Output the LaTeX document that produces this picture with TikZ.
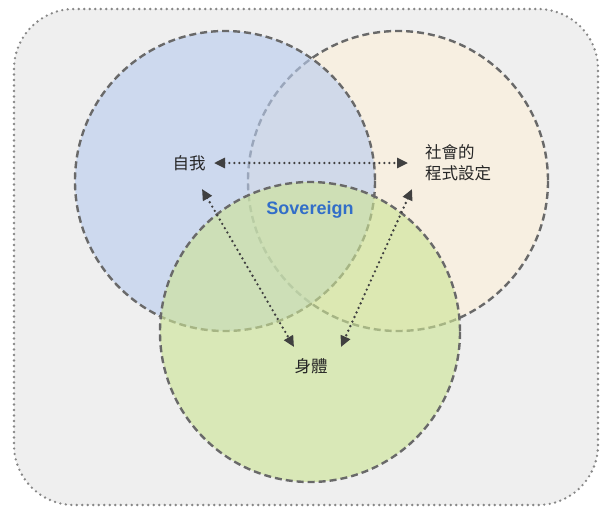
\documentclass[tikz,border=0pt]{standalone}
\usepackage{fontspec}
\setmainfont{Liberation Sans}
\newfontfamily\cjk{Noto Sans CJK TC}
\usetikzlibrary{arrows.meta}
\definecolor{bgc}{RGB}{239,239,239}
\definecolor{framec}{RGB}{135,135,135}
\definecolor{circc}{RGB}{105,105,105}
\definecolor{bluef}{RGB}{185,205,238}
\definecolor{beigef}{RGB}{252,240,218}
\definecolor{greenf}{RGB}{205,228,150}
\definecolor{sovc}{RGB}{50,110,200}
\tikzset{
  frame/.style={draw=framec, line width=2.6pt, dash pattern=on 0pt off 5.5pt, line cap=round, fill=bgc, rounded corners=60pt},
  circ/.style={draw=circc, line width=2.4pt, dash pattern=on 7pt off 4pt, fill opacity=0.62},
  lbl/.style={font=\cjk\fontsize{16.5}{21}\selectfont, text=black!85},
  link/.style={draw=black!75, line width=2.6pt, dash pattern=on 0pt off 5pt, line cap=round, {Triangle[length=11pt,width=10pt]}-{Triangle[length=11pt,width=10pt]}}
}
\begin{document}
\begin{tikzpicture}[x=1pt,y=-1pt]
\useasboundingbox (0,0) rectangle (600,509);
\draw[frame] (14,9) rectangle (598,505);
\filldraw[circ, fill=beigef] (398,181) circle (150);
\filldraw[circ, fill=bluef] (225,181) circle (150);
\filldraw[circ, fill=greenf] (310,332) circle (150);
\node[lbl] (self) at (189,163) {自我};
\node[lbl, align=left] (soc) at (458,163) {社會的\\程式設定};
\node[font=\fontsize{18}{21}\selectfont\bfseries, text=sovc] (sov) at (310,210) {Sovereign};
\node[lbl] (body) at (311,366) {身體};
\coordinate (sr) at (214,163);
\coordinate (sl) at (408,163);
\coordinate (sd) at (202,189);
\coordinate (bl) at (294,347);
\coordinate (bd) at (412,189);
\coordinate (br) at (341,347);
\draw[link] (sr) -- (sl);
\draw[link] (sd) -- (bl);
\draw[link] (bd) -- (br);
\end{tikzpicture}
\end{document}
